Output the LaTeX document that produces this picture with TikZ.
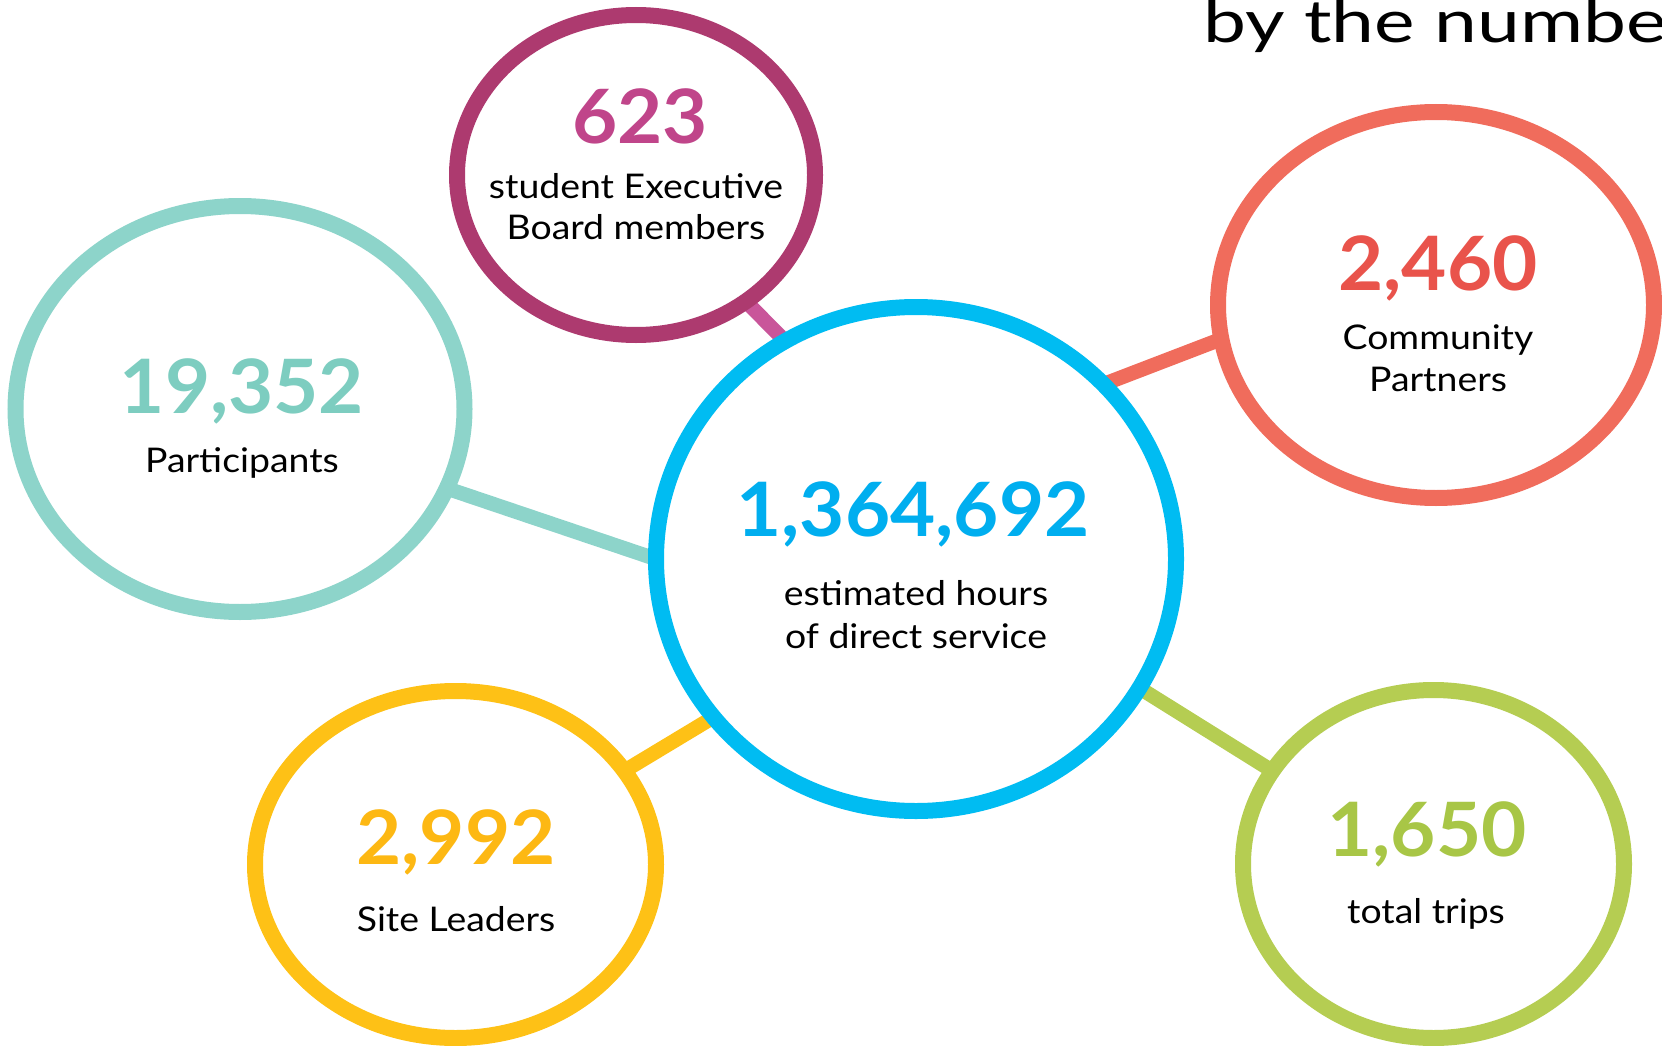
\documentclass[tikz,border=0pt]{standalone}
\usepackage{fontspec}
\setmainfont{Lato}
\newfontfamily\labfont[FakeStretch=1.1]{Lato}
\newfontfamily\numfont[FakeStretch=1.04]{Lato}
\newfontfamily\ttlfont[FakeStretch=1.3]{Lato}
\usetikzlibrary{shapes.geometric,backgrounds}
\definecolor{magOut}{HTML}{AD3A6F}
\definecolor{magNum}{HTML}{C0458A}
\definecolor{magLine}{HTML}{C9559A}
\definecolor{tealOut}{HTML}{8DD4CA}
\definecolor{tealNum}{HTML}{7DCDC0}
\definecolor{blueOut}{HTML}{00BCF2}
\definecolor{blueNum}{HTML}{00AEEF}
\definecolor{coralOut}{HTML}{F06C5C}
\definecolor{coralNum}{HTML}{E9534B}
\definecolor{yelOut}{HTML}{FEC116}
\definecolor{yelNum}{HTML}{FDB813}
\definecolor{greenOut}{HTML}{B5CD52}
\definecolor{greenNum}{HTML}{A8C646}
\begin{document}
\begin{tikzpicture}[x=1pt,y=-1pt,
  bubble/.style={ellipse, draw, fill=white, line width=16pt, inner sep=0pt, outer sep=0pt},
  link/.style={line width=14.5pt},
  num/.style={anchor=base, font=\numfont\fontsize{75}{75}\selectfont\bfseries, inner sep=0pt},
  lab/.style={anchor=base, font=\labfont\fontsize{34}{42}\selectfont, inner sep=0pt, text=black},
  ttl/.style={anchor=base west, font=\ttlfont\fontsize{59}{59}\selectfont, inner sep=0pt, text=black}
]
\useasboundingbox (0,0) rectangle (1662,1046);
\clip (0,0) rectangle (1662,1046);

\node[bubble, draw=magOut, minimum width=358pt, minimum height=320pt] (board) at (636,175) {};
\node[bubble, draw=tealOut, minimum width=449pt, minimum height=406pt] (teal) at (240,409) {};
\node[bubble, draw=blueOut, minimum width=520pt, minimum height=504pt] (blue) at (916,559) {};
\node[bubble, draw=coralOut, minimum width=436pt, minimum height=386pt] (coral) at (1436,305) {};
\node[bubble, draw=yelOut, minimum width=401pt, minimum height=347pt] (yellow) at (455.5,864.5) {};
\node[bubble, draw=greenOut, minimum width=381pt, minimum height=348pt] (green) at (1433.5,864) {};

\begin{pgfonlayer}{background}
\draw[link, tealOut] (teal.-21.6) -- (blue.180.6);
\draw[link, magLine] (board.-49.4) -- (blue.121.2);
\draw[link, coralOut] (coral.-171.1) -- (blue.43.4);
\draw[link, yelOut] (yellow.29) -- (blue.-142.6);
\draw[link, greenOut] (blue.-30.2) -- (green.150.8);
\end{pgfonlayer}

\node[num, text=magNum] (n623) at (640,143) {623};
\node[lab] (l623a) at (636,198) {student Executive};
\node[lab] (l623b) at (636,239) {Board members};
\node[num, text=tealNum] (n19352) at (242,413) {19,352};
\node[lab] (l19352) at (242,472) {Participants};
\node[num, text=blueNum] (nhours) at (913,536) {1,364,692};
\node[lab] (lhoursa) at (916,605) {estimated hours};
\node[lab] (lhoursb) at (916,648) {of direct service};
\node[num, text=coralNum] (n2460) at (1438,290) {2,460};
\node[lab] (l2460a) at (1438,349.5) {Community};
\node[lab] (l2460b) at (1438,391) {Partners};
\node[num, text=yelNum] (n2992) at (456,864) {2,992};
\node[lab] (l2992) at (456,931.5) {Site Leaders};
\node[num, text=greenNum] (n1650) at (1427,856.5) {1,650};
\node[lab] (l1650) at (1426,923) {total trips};
\node[ttl] (title) at (1203,42.5) {by the numbe};
\end{tikzpicture}
\end{document}
